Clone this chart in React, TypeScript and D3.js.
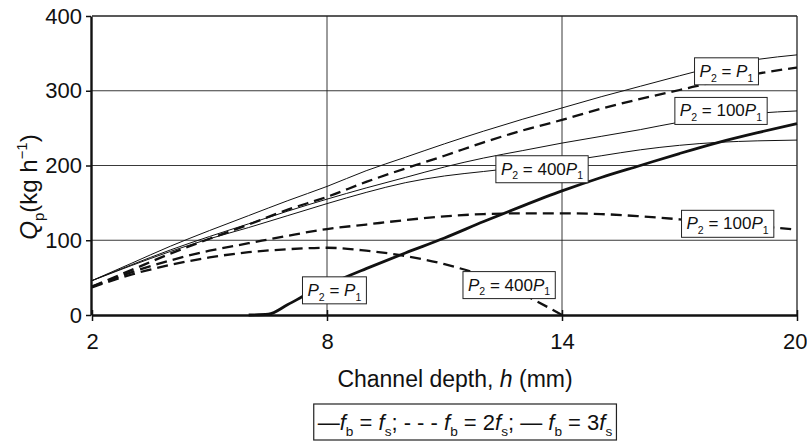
import React, { useEffect, useRef } from 'react';
import * as d3 from 'd3';

// channel depth h (mm)
const depth = [2, 3, 4, 5, 6, 7, 8, 9, 10, 11, 12, 13, 14, 15, 16, 17, 18, 19, 20];
const depthShort = [2, 3, 4, 5, 6, 7, 8, 9, 10, 11, 12, 13, 14];
const depthThick = [6, 6.5, 7, 7.5, 8, 9, 10, 11, 12, 13, 14, 15, 16, 17, 18, 19, 20];

// fb = fs (thin solid)
const fs1P1 = [46, 69, 92, 113, 133, 153, 172, 193, 211, 229, 246, 262, 277, 292, 306, 320, 333, 342, 348];
const fs1P100 = [46, 67, 87, 105, 122, 139, 155, 170, 184, 198, 210, 220, 230, 239, 248, 258, 265, 270, 273];
const fs1P400 = [46, 66, 85, 102, 117, 133, 149, 164, 177, 186, 192, 198, 205, 213, 221, 227, 231, 233, 234];
// fb = 2fs (dashed)
const fs2P1 = [38, 60, 82, 102, 121, 141, 158, 178, 196, 213, 231, 247, 261, 276, 289, 301, 313, 323, 331];
const fs2P100 = [38, 57, 73, 86, 96, 106, 115, 121, 127, 132, 135, 136, 136, 135, 132, 128, 123, 119, 114];
const fs2P400 = [37, 54, 67, 77, 84, 88, 90, 86, 79, 68, 52, 28, 0];
// fb = 3fs (thick solid)
const fs3P1 = [0, 1, 14, 28, 40, 62, 83, 103, 125, 146, 166, 184, 200, 216, 231, 244, 256];

const xTicks = [2, 8, 14, 20];
const yTicks = [0, 100, 200, 300, 400];

type Part = { t: string; i?: boolean; sub?: boolean; sup?: boolean };

const pLabel = (n: string): Part[] => [
  { t: 'P', i: true }, { t: '2', sub: true }, { t: ' = ' + n },
  { t: 'P', i: true }, { t: '1', sub: true },
];

// curve labels, centre in data units
const labels = [
  { parts: pLabel(''), x: 18.2, y: 326 },
  { parts: pLabel('100'), x: 18.06, y: 273 },
  { parts: pLabel('400'), x: 13.49, y: 195 },
  { parts: pLabel('100'), x: 18.23, y: 122 },
  { parts: pLabel(''), x: 8.19, y: 33 },
  { parts: pLabel('400'), x: 12.65, y: 40 },
];

const FONT = '"Liberation Sans", Arial, Helvetica, sans-serif';

function writeParts(text: any, parts: Part[], size: number) {
  let shift = 0;
  parts.forEach(p => {
    const sp = text.append('tspan').text(p.t);
    let target = 0;
    if (p.sub) target = size * 0.28;
    if (p.sup) target = -size * 0.4;
    sp.attr('dy', target - shift);
    shift = target;
    sp.attr('font-size', p.sub || p.sup ? size * 0.62 : size);
    if (p.i) sp.attr('font-style', 'italic');
  });
}

const App = () => {
  const svgRef = useRef<SVGSVGElement>(null);

  useEffect(() => {
    if (!svgRef.current) return;
    const svg = d3.select(svgRef.current);
    svg.selectAll('*').remove();

    const x = d3.scaleLinear().domain([2, 20]).range([92, 797]);
    const y = d3.scaleLinear().domain([0, 400]).range([315, 16]);

    // grid
    const grid = svg.append('g').attr('stroke', '#222').attr('stroke-width', 0.9);
    grid.selectAll('line.h')
      .data(yTicks.slice(1))
      .enter().append('line')
      .attr('x1', x(2)).attr('x2', x(20))
      .attr('y1', d => y(d)).attr('y2', d => y(d))
      .attr('stroke-width', d => (d === 400 ? 1.3 : 0.9));
    grid.selectAll('line.v')
      .data(xTicks.slice(1))
      .enter().append('line')
      .attr('x1', d => x(d)).attr('x2', d => x(d))
      .attr('y1', y(0)).attr('y2', y(400))
      .attr('stroke-width', d => (d === 20 ? 1.3 : 0.9));

    // curves
    const line = (xs: number[]) => d3.line<number>()
      .x((_, i) => x(xs[i]))
      .y(d => y(d))
      .curve(d3.curveMonotoneX);

    const series = [
      { xs: depth, v: fs1P1, w: 1, dash: null },
      { xs: depth, v: fs1P100, w: 1, dash: null },
      { xs: depth, v: fs1P400, w: 1, dash: null },
      { xs: depth, v: fs2P1, w: 2.3, dash: '11,6' },
      { xs: depth, v: fs2P100, w: 2.3, dash: '11,6' },
      { xs: depthShort, v: fs2P400, w: 2.3, dash: '11,6' },
      { xs: depthThick, v: fs3P1, w: 2.8, dash: null },
    ];
    series.forEach(s => {
      svg.append('path')
        .attr('d', line(s.xs)(s.v))
        .attr('fill', 'none')
        .attr('stroke', '#111')
        .attr('stroke-width', s.w)
        .attr('stroke-dasharray', s.dash);
    });

    // axes
    const yAxis = svg.append('g')
      .attr('transform', `translate(${x(2) - 1},0)`)
      .call(d3.axisLeft(y).tickValues(yTicks).tickSizeInner(5).tickSizeOuter(0).tickPadding(4));
    yAxis.select('.domain').attr('stroke', '#111').attr('stroke-width', 2.4);
    yAxis.selectAll('.tick line').attr('stroke', '#111').attr('stroke-width', 1.5);
    yAxis.selectAll('.tick text')
      .attr('fill', '#111').style('font-size', '22px').style('font-family', FONT);

    const xAxis = svg.append('g')
      .attr('transform', `translate(0,${y(0)})`)
      .call(d3.axisBottom(x).tickValues(xTicks).tickSizeInner(6).tickSizeOuter(0).tickPadding(12));
    xAxis.select('.domain').attr('stroke', '#111').attr('stroke-width', 2.6);
    xAxis.selectAll('.tick line').attr('stroke', '#111').attr('stroke-width', 1.5).attr('y1', -5);
    xAxis.selectAll('.tick text')
      .attr('fill', '#111').style('font-size', '22px').style('font-family', FONT);
    // keep the last tick label inside the page
    xAxis.selectAll('.tick text')
      .filter(d => d === 20)
      .attr('text-anchor', 'end')
      .attr('x', 807 - x(20));

    // curve labels
    labels.forEach(l => {
      const g = svg.append('g');
      const rect = g.append('rect');
      const t = g.append('text')
        .attr('font-family', FONT).attr('fill', '#111');
      writeParts(t, l.parts, 17);
      const bb = (t.node() as SVGTextElement).getBBox();
      rect.attr('x', bb.x - 5).attr('y', -13.5)
        .attr('width', bb.width + 10).attr('height', 27)
        .attr('fill', '#fff').attr('stroke', '#222').attr('stroke-width', 1);
      t.attr('y', 5.5);
      g.attr('transform', `translate(${x(l.x) - (bb.width + 10) / 2 + 5},${y(l.y)})`);
    });

    // axis titles
    const xt = svg.append('text')
      .attr('x', 455).attr('y', 387)
      .attr('text-anchor', 'middle')
      .attr('font-family', FONT).attr('fill', '#111');
    writeParts(xt, [{ t: 'Channel depth, ' }, { t: 'h', i: true }, { t: ' (mm)' }], 23);

    const yt = svg.append('text')
      .attr('transform', 'translate(37,187) rotate(-90)')
      .attr('text-anchor', 'middle')
      .attr('font-family', FONT).attr('fill', '#111');
    writeParts(yt, [
      { t: 'Q', i: true }, { t: 'p', sub: true }, { t: '(kg h' }, { t: '\u2212' + '1', sup: true }, { t: ')' },
    ], 24);

    // legend
    const lg = svg.append('g');
    const lrect = lg.append('rect');
    const lt = lg.append('text')
      .attr('x', 465).attr('y', 430)
      .attr('text-anchor', 'middle')
      .attr('font-family', FONT).attr('fill', '#111');
    writeParts(lt, [
      { t: '\u2014' }, { t: 'f', i: true }, { t: 'b', sub: true }, { t: ' = ' }, { t: 'f', i: true }, { t: 's', sub: true },
      { t: '; - - -  ' }, { t: 'f', i: true }, { t: 'b', sub: true }, { t: ' = 2' }, { t: 'f', i: true }, { t: 's', sub: true },
      { t: '; \u2014 ' }, { t: 'f', i: true }, { t: 'b', sub: true }, { t: ' = 3' }, { t: 'f', i: true }, { t: 's', sub: true },
    ], 22);
    const lb = (lt.node() as SVGTextElement).getBBox();
    lrect.attr('x', lb.x - 4).attr('y', 404)
      .attr('width', lb.width + 8).attr('height', 36)
      .attr('fill', '#fff').attr('stroke', '#222').attr('stroke-width', 1.2);
  }, []);

  return (
    <svg
      ref={svgRef}
      width={807}
      height={444}
      style={{ position: 'absolute', left: 0, top: 0, background: '#fff' }}
    />
  );
};

export default App;
